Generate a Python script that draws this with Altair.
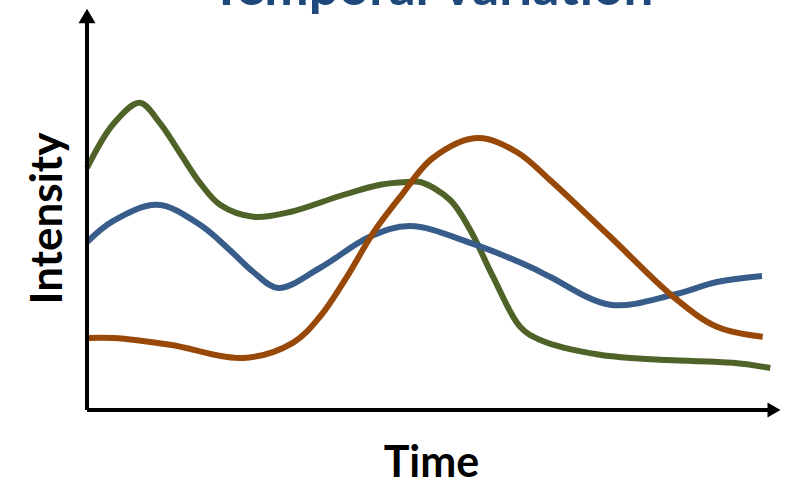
import altair as alt
import pandas as pd

# Time runs 0-100 along the x axis, intensity 0-100 up the y axis
green_time = [0, 3.8, 7.6, 10.5, 13.4, 16.3, 19.2, 24.0, 29.3, 36.5, 42.3, 46.2,
              48.1, 52.4, 55.3, 58.6, 62.5, 65.4, 74.0, 83.7, 93.2, 98.6]
green_intensity = [60.5, 71.5, 76.8, 71.8, 64.3, 56.8, 51.3, 48.3, 49.5, 53.5, 56.3, 57.0,
                   57.0, 52.5, 45.0, 33.3, 20.8, 17.5, 13.8, 12.5, 11.8, 10.5]

blue_time = [0, 3.8, 10.2, 16.3, 20.6, 24.0, 27.6, 33.6, 40.8, 46.6, 55.3, 63.9,
             66.8, 75.5, 84.6, 90.9, 97.4]
blue_intensity = [42.0, 47.3, 51.3, 46.3, 40.0, 34.5, 30.5, 35.5, 43.3, 46.0, 41.8, 35.8,
                  33.3, 26.3, 28.8, 32.0, 33.5]

orange_time = [0, 3.8, 12.0, 22.5, 29.7, 33.6, 37.5, 41.3, 45.2, 49.9, 56.3, 62.0,
               66.8, 75.5, 84.6, 90.9, 97.5]
orange_intensity = [18.0, 18.0, 16.3, 13.0, 16.8, 23.3, 33.3, 44.3, 53.3, 63.0, 68.0, 64.5,
                    57.5, 43.3, 28.3, 20.8, 18.3]

series_names = ["green", "blue", "orange"]
series_colors = ["#4F6228", "#385D8A", "#984807"]

title_text = ["Temporal Variation"]

rows = []
for name, ts, vs in [("green", green_time, green_intensity),
                     ("blue", blue_time, blue_intensity),
                     ("orange", orange_time, orange_intensity)]:
    for order, (t, v) in enumerate(zip(ts, vs)):
        rows.append({"series": name, "time": t, "intensity": v, "order": order})
df = pd.DataFrame(rows)

x_scale = alt.Scale(domain=[0, 100], nice=False, zero=False)
y_scale = alt.Scale(domain=[0, 100], nice=False, zero=False)

x_enc = alt.X("time:Q", scale=x_scale,
              axis=alt.Axis(domain=False, ticks=False, labels=False, grid=False,
                            title="Time", titleFont="Lato", titleFontSize=43,
                            titleFontWeight="bold", titleColor="black",
                            titleX=344, titleY=66, titleBaseline="alphabetic",
                            titleAlign="center", titleAngle=0))
y_enc = alt.Y("intensity:Q", scale=y_scale,
              axis=alt.Axis(domain=False, ticks=False, labels=False, grid=False,
                            title="Intensity", titleFont="Lato", titleFontSize=44,
                            titleFontWeight="bold", titleColor="black",
                            titleX=-26, titleY=208, titleBaseline="alphabetic",
                            titleAlign="center", titleAngle=-90))

curves = alt.Chart(df).mark_line(
    interpolate="catmull-rom", strokeWidth=6, strokeCap="butt"
).encode(
    x=x_enc,
    y=y_enc,
    order="order:Q",
    color=alt.Color("series:N", scale=alt.Scale(domain=series_names, range=series_colors),
                    legend=None),
    detail="series:N",
)

# Axis lines with arrow heads
axes_df = pd.DataFrame({"t0": [0, 0], "t1": [0, 100], "i0": [0, 0], "i1": [100, 0],
                        "kind": ["y", "x"]})
y_line = alt.Chart(axes_df[axes_df.kind == "y"]).mark_rule(
    color="black", strokeWidth=4, y2Offset=8
).encode(x=alt.X("t0:Q", scale=x_scale), y=alt.Y("i0:Q", scale=y_scale),
         y2="i1:Q")
x_line = alt.Chart(axes_df[axes_df.kind == "x"]).mark_rule(
    color="black", strokeWidth=4, x2Offset=-8
).encode(x=alt.X("t0:Q", scale=x_scale), x2="t1:Q",
         y=alt.Y("i0:Q", scale=y_scale))

up_head = alt.Chart(axes_df[axes_df.kind == "y"]).mark_point(
    shape="triangle-up", filled=True, color="black", opacity=1, size=289, yOffset=6
).encode(x=alt.X("t0:Q", scale=x_scale), y=alt.Y("i1:Q", scale=y_scale))
right_head = alt.Chart(axes_df[axes_df.kind == "x"]).mark_point(
    shape="triangle-right", filled=True, color="black", opacity=1, size=225, xOffset=-6
).encode(x=alt.X("t1:Q", scale=x_scale), y=alt.Y("i0:Q", scale=y_scale))

# Heading, sitting above the plot so only its lower part shows on the page
heading = alt.Chart(pd.DataFrame({"label": title_text})).mark_text(
    font="Lato", fontSize=53, fontWeight="bold", color="#1F497D",
    align="center", baseline="alphabetic"
).encode(text="label:N", x=alt.value(345), y=alt.value(-5))

chart = alt.layer(curves, x_line, y_line, up_head, right_head, heading).properties(
    width=693,
    height=400,
    padding={"left": 87, "top": 10, "right": 15, "bottom": 74},
    autosize=alt.AutoSizeParams(type="none"),
).configure_view(stroke=None)

chart.save("out.html", embed_options={"renderer": "svg", "actions": False})
